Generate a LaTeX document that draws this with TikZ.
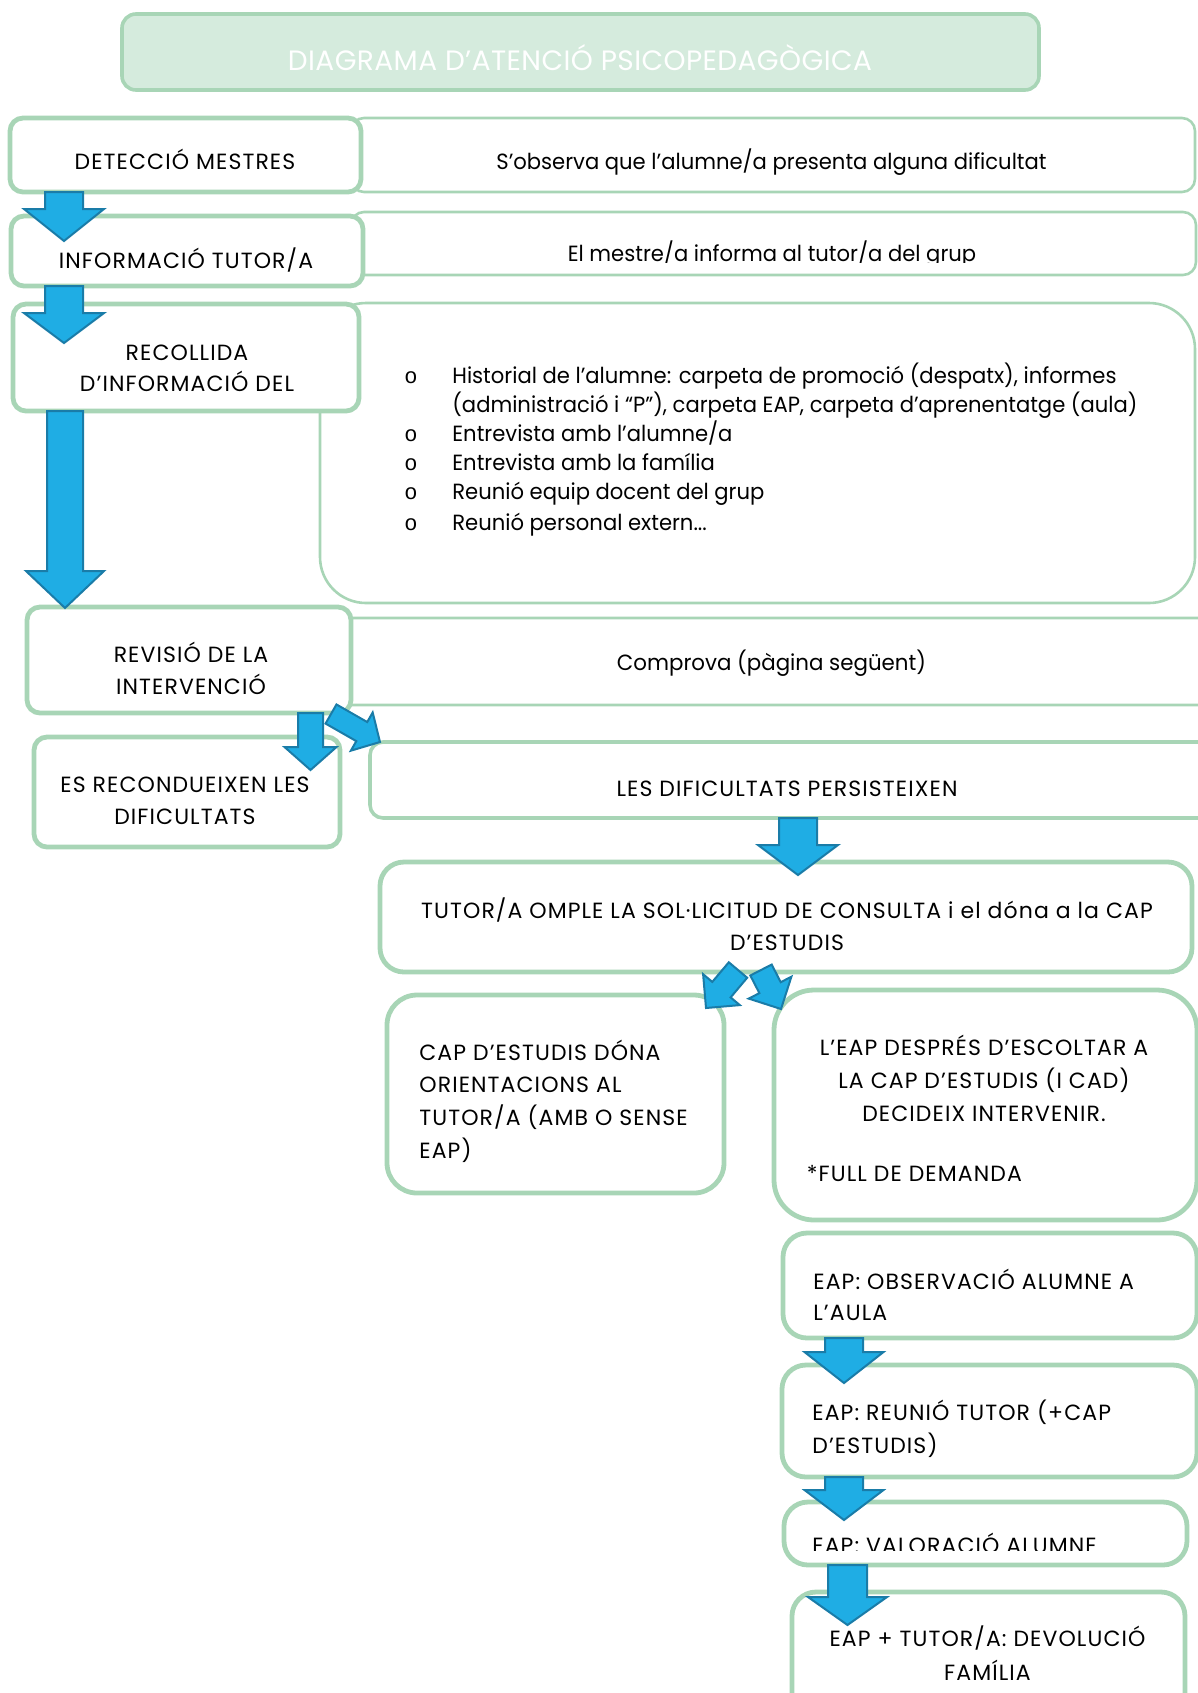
\documentclass[tikz,border=0pt]{standalone}
\usepackage{fontspec}
\setmainfont{Poppins}
\newfontfamily\capsfont{Poppins}[LetterSpace=5]
\newfontfamily\lcfont{Poppins}[FakeStretch=0.96]
\newfontfamily\titlefont{Poppins}[LetterSpace=1.5]
\newfontfamily\bulletfont{Liberation Mono}
\usetikzlibrary{calc}

\definecolor{boxgreen}{HTML}{A8D5B6}
\definecolor{titlefill}{HTML}{D5EBDD}
\definecolor{arrowblue}{HTML}{1FADE4}
\definecolor{arrowedge}{HTML}{1A7CA8}

% block arrow: tail, tip, shaft half width, head half width, head length
\newcommand{\flowarrow}[5]{%
  \coordinate (fa-base) at ($(#2)!#5!(#1)$);
  \draw[blockarrow] ($(#1)!#3!90:(#2)$) -- ($(fa-base)!#3!90:(#2)$)
    -- ($(fa-base)!#4!90:(#2)$) -- (#2) -- ($(fa-base)!#4!-90:(#2)$)
    -- ($(fa-base)!#3!-90:(#2)$) -- ($(#1)!#3!-90:(#2)$) -- cycle;
}

\begin{document}
\begin{tikzpicture}[
  x=0.5pt, y=-0.5pt,
  every node/.style={font=\fontsize{11}{16}\selectfont},
  titlebox/.style={draw=boxgreen, line width=1.8pt, fill=titlefill, rounded corners=7pt, outer sep=0pt},
  lbox/.style={draw=boxgreen, line width=2.4pt, fill=white, rounded corners=6.5pt, outer sep=0pt},
  rbox/.style={draw=boxgreen, line width=1.3pt, fill=white, rounded corners=6.5pt, outer sep=0pt},
  tbox/.style={draw=boxgreen, line width=2.4pt, fill=white, rounded corners=12pt, outer sep=0pt},
  txt/.style={inner sep=0pt, align=center, anchor=base},
  ltxt/.style={inner sep=0pt, align=left, anchor=base west},
  caps/.style={font=\capsfont\fontsize{11}{16}\selectfont},
  lc/.style={font=\lcfont\fontsize{11}{16}\selectfont},
  blockarrow/.style={fill=arrowblue, draw=arrowedge, line width=1pt, line join=miter}
]
\useasboundingbox (0,0) rectangle (1198,1693);
\clip (0,0) rectangle (1198,1693);

% Title
\node[titlebox, minimum width=458.5pt, minimum height=38pt] (title) at (580.5,52) {};
\node[txt, text=white, font=\titlefont\fontsize{14}{16}\selectfont] (title-t) at (580,70) {DIAGRAMA D’ATENCIÓ PSICOPEDAGÒGICA};

% Right hand boxes (behind)
\node[rbox, minimum width=422pt, minimum height=37pt] (obs) at (773,155) {};
\node[txt, lc] (obs-t) at (771.5,169) {S’observa que l’alumne/a presenta alguna dificultat};

\node[rbox, minimum width=422.5pt, minimum height=31.5pt] (inform) at (773.5,243.5) {};
\begin{scope}
  \clip (351,212) rectangle (1196,262);
  \node[txt, lc] (inform-t) at (772,261) {El mestre/a informa al tutor/a del grup};
\end{scope}

\node[rbox, rounded corners=23pt, minimum width=437.5pt, minimum height=150pt] (hist) at (757.5,453) {};
\node[inner sep=0pt, anchor=base west, font=\lcfont\fontsize{11}{14.5}\selectfont] (hist-t) at (404,383) {%
  \begin{tabular}[t]{@{}l@{}l@{}}
    \makebox[24pt][l]{\bulletfont o} & Historial de l’alumne: carpeta de promoció (despatx), informes\\
    & (administració i “P”), carpeta EAP, carpeta d’aprenentatge (aula)\\
    \makebox[24pt][l]{\bulletfont o} & Entrevista amb l’alumne/a\\
    \makebox[24pt][l]{\bulletfont o} & Entrevista amb la família\\
    \makebox[24pt][l]{\bulletfont o} & Reunió equip docent del grup\\[1pt]
    \makebox[24pt][l]{\bulletfont o} & Reunió personal extern...
  \end{tabular}};

\node[rbox, minimum width=441pt, minimum height=43.5pt] (compr) at (777,661.5) {};
\node[txt, font=\lcfont\fontsize{11}{16}\selectfont\addfontfeature{FakeStretch=0.97}] (compr-t) at (771.5,670) {Comprova (pàgina següent)};

\node[rbox, line width=1.8pt, minimum width=424pt, minimum height=38pt] (persist) at (794,780) {};
\node[txt, caps] (persist-t) at (787,796) {LES DIFICULTATS PERSISTEIXEN};

% Left hand boxes
\node[lbox, minimum width=175.5pt, minimum height=37pt] (detec) at (185.5,155) {};
\node[txt, caps] (detec-t) at (185,169) {DETECCIÓ MESTRES};

\node[lbox, minimum width=176pt, minimum height=35pt] (info) at (187,251) {};
\node[txt, caps] (info-t) at (186,268) {INFORMACIÓ TUTOR/A};

\node[lbox, minimum width=173pt, minimum height=53.5pt] (recol) at (186,357.5) {};
\node[txt, font=\capsfont\fontsize{11}{15.5}\selectfont] (recol-t) at (187,391) {RECOLLIDA\\D’INFORMACIÓ DEL};

\node[lbox, minimum width=162pt, minimum height=53pt] (revis) at (189,660) {};
\node[txt, caps] (revis-t) at (191,694) {REVISIÓ DE LA\\INTERVENCIÓ};

\node[lbox, minimum width=153pt, minimum height=55pt] (recon) at (187,792) {};
\node[txt, caps] (recon-t) at (185,824) {ES RECONDUEIXEN LES\\DIFICULTATS};

% Lower boxes
\node[tbox, minimum width=406pt, minimum height=55pt] (tutor) at (786,917) {};
\node[txt, caps] (tutor-t) at (787,950) {TUTOR/A OMPLE LA SOL·LICITUD DE CONSULTA i el dóna a la CAP\\D’ESTUDIS};

\node[tbox, rounded corners=15pt, minimum width=168.5pt, minimum height=99pt] (cap) at (555.5,1094) {};
\node[ltxt, font=\capsfont\fontsize{11}{16.3}\selectfont] (cap-t) at (419,1158) {CAP D’ESTUDIS DÓNA\\ORIENTACIONS AL\\TUTOR/A (AMB O SENSE\\EAP)};

\node[tbox, rounded corners=20pt, minimum width=211.5pt, minimum height=115pt] (eap) at (985.5,1105) {};
\node[txt, font=\capsfont\fontsize{11}{16.3}\selectfont] (eap-t) at (984,1121) {L’EAP DESPRÉS D’ESCOLTAR A\\LA CAP D’ESTUDIS (I CAD)\\DECIDEIX INTERVENIR.};
\node[ltxt, caps] (eap-t2) at (806.5,1181) {*FULL DE DEMANDA};

\node[tbox, minimum width=207pt, minimum height=52.5pt] (obs2) at (990,1285.5) {};
\node[ltxt, font=\capsfont\fontsize{11}{15.5}\selectfont] (obs2-t) at (813,1320) {EAP: OBSERVACIÓ ALUMNE A\\L’AULA};

\node[tbox, minimum width=207.5pt, minimum height=56pt] (reun) at (989.5,1421) {};
\node[ltxt, font=\capsfont\fontsize{11}{16.3}\selectfont] (reun-t) at (812,1453) {EAP: REUNIÓ TUTOR (+CAP\\D’ESTUDIS)};

\node[tbox, minimum width=201.5pt, minimum height=31.5pt] (valor) at (985.5,1533.5) {};
\begin{scope}
  \clip (784,1502) rectangle (1187,1550);
  \node[ltxt, caps] (valor-t) at (812,1553) {EAP: VALORACIÓ ALUMNE};
\end{scope}

\node[tbox, minimum width=196.5pt, minimum height=69pt] (devol) at (988.5,1661) {};
\node[txt, font=\capsfont\fontsize{11}{17}\selectfont] (devol-t) at (987.5,1680) {EAP + TUTOR/A: DEVOLUCIÓ\\FAMÍLIA};

% Arrows
\coordinate (a1s) at ($(detec.south west)+(54,0)$);
\coordinate (a1e) at (64,241);
\flowarrow{a1s}{a1e}{9.5pt}{20pt}{16pt}

\coordinate (a2s) at ($(info.south west)+(53,0)$);
\coordinate (a2e) at (64,343);
\flowarrow{a2s}{a2e}{9.5pt}{20pt}{15pt}

\coordinate (a3s) at ($(recol.south west)+(52,0)$);
\coordinate (a3e) at (65,608);
\flowarrow{a3s}{a3e}{9pt}{19.5pt}{18.5pt}

\coordinate (a4s) at (310.5,713);
\coordinate (a4e) at (310.5,770);
\flowarrow{a4s}{a4e}{6.25pt}{13pt}{11.5pt}

\coordinate (a5s) at (331,714);
\coordinate (a5e) at (380,742);
\flowarrow{a5s}{a5e}{5.5pt}{11pt}{10.5pt}

\coordinate (a6s) at ($(persist.south west)+(428,0)$);
\coordinate (a6e) at (798,875);
\flowarrow{a6s}{a6e}{9.5pt}{20pt}{15pt}

\coordinate (a7s) at (738,970);
\coordinate (a7e) at (706,1008);
\flowarrow{a7s}{a7e}{6pt}{12pt}{12pt}

\coordinate (a8s) at (761,970);
\coordinate (a8e) at (781,1009);
\flowarrow{a8s}{a8e}{6pt}{12pt}{12pt}

\coordinate (a9s) at ($(obs2.south west)+(61,0)$);
\coordinate (a9e) at (844,1383);
\flowarrow{a9s}{a9e}{9.5pt}{19.75pt}{15.5pt}

\coordinate (a10s) at ($(reun.south west)+(62,0)$);
\coordinate (a10e) at (844,1520);
\flowarrow{a10s}{a10e}{9.5pt}{19.75pt}{15pt}

\coordinate (a11s) at ($(valor.south west)+(63.5,0)$);
\coordinate (a11e) at (847.5,1625);
\flowarrow{a11s}{a11e}{9.75pt}{19.75pt}{14pt}

\end{tikzpicture}
\end{document}
